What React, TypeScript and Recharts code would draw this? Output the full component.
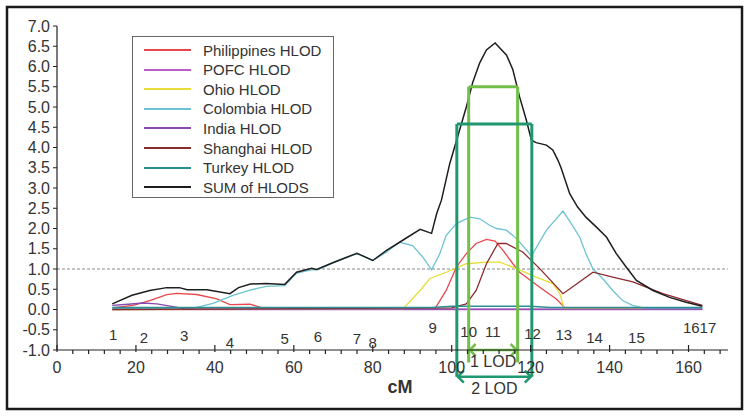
import React from "react";
import { ComposedChart, Line, Scatter, XAxis, YAxis, ReferenceLine, Customized } from "recharts";

// HLOD curves (cM vs LOD)
const sumCM = [14, 19, 23.5, 27.8, 31, 33, 38, 43.8, 46, 49, 53, 57.7, 60.7, 64.5, 65.8, 70, 76, 80, 83.5, 87.6, 92, 94.9, 96.2, 97.4, 99.5, 102, 103.7, 105.3, 107.1, 108.8, 111, 113.9, 115.5, 117.2, 118.9, 120.2, 121.4, 124, 125.6, 126.9, 127.7, 129.9, 131.9, 134, 136.6, 139.2, 141.7, 144.2, 146.8, 151, 155.2, 159.4, 163.5];
const sumLOD = [0.14, 0.35, 0.47, 0.54, 0.54, 0.49, 0.49, 0.39, 0.54, 0.63, 0.64, 0.62, 0.92, 1.02, 0.99, 1.16, 1.39, 1.21, 1.46, 1.71, 1.98, 1.88, 2.37, 2.7, 3.6, 4.43, 5.0, 5.6, 6.09, 6.41, 6.58, 6.28, 5.92, 5.25, 4.68, 4.18, 4.12, 4.06, 3.94, 3.69, 3.5, 2.86, 2.53, 2.28, 2.04, 1.79, 1.38, 1.05, 0.72, 0.47, 0.3, 0.18, 0.08];

const colCM = [14, 32, 34.4, 39.5, 44.6, 48.9, 53, 57.7, 60.7, 64.5, 66, 70, 76, 80, 83.5, 86.8, 90.1, 92.7, 94.9, 97, 98.6, 101.2, 104.6, 107.1, 109.6, 111.3, 113.8, 115.5, 117.2, 120.2, 124, 128.2, 130.3, 132.4, 134, 135.8, 138.3, 140.8, 143.3, 145.8, 149.3, 163.5];
const colLOD = [0.02, 0.02, 0.03, 0.15, 0.35, 0.48, 0.57, 0.59, 0.9, 0.98, 0.98, 1.15, 1.38, 1.21, 1.42, 1.66, 1.58, 1.29, 0.98, 1.38, 1.83, 2.12, 2.28, 2.24, 2.08, 2.0, 1.96, 1.83, 1.67, 1.32, 1.96, 2.43, 2.12, 1.79, 1.38, 1.0, 0.76, 0.47, 0.22, 0.1, 0.02, 0.02];

const phiCM = [14, 19.3, 23.5, 27.8, 30.3, 35.4, 40.5, 43.8, 48.9, 53, 95.7, 98.6, 101.2, 103.7, 106.2, 108.8, 111, 113, 115.5, 117.2, 122.3, 126.5, 129, 163.5];
const phiLOD = [0.04, 0.1, 0.22, 0.37, 0.4, 0.37, 0.26, 0.12, 0.13, 0.01, 0.01, 0.47, 1.05, 1.38, 1.63, 1.73, 1.69, 1.46, 1.13, 0.92, 0.55, 0.26, 0.01, 0.01];

const ohiCM = [14, 87.6, 92, 94.4, 98.6, 103.7, 108.8, 112.2, 116.4, 121.4, 125.6, 127.4, 128.5, 163.5];
const ohiLOD = [0, 0.01, 0.47, 0.76, 0.92, 1.13, 1.17, 1.17, 1.01, 0.8, 0.64, 0.39, 0.02, 0.02];

const shaCM = [14, 100, 103.7, 106.2, 108.8, 111.7, 113.8, 118, 122.3, 128.2, 135.8, 140.8, 145.9, 153.5, 163.5];
const shaLOD = [0, 0.04, 0.14, 0.47, 1.13, 1.63, 1.63, 1.42, 1.01, 0.39, 0.92, 0.8, 0.68, 0.39, 0.1];

const indCM = [14, 18, 21.8, 25.3, 29.4, 32.8, 163.5];
const indLOD = [0.1, 0.13, 0.16, 0.14, 0.07, 0.01, 0.01];

const pofCM = [14, 163.5];
const pofLOD = [0, 0];

const turCM = [14, 95, 100, 120, 125, 163.5];
const turLOD = [0.05, 0.05, 0.08, 0.08, 0.05, 0.05];

// marker labels along the map
const markerNames = ["1", "2", "3", "4", "5", "6", "7", "8", "9", "10", "11", "12", "13", "14", "15", "1617"];
const markerCM = [14.2, 22, 32.2, 43.8, 57.7, 66.1, 76, 80, 95.2, 104.3, 110.4, 120.5, 128.4, 136.2, 146.8, 162.8];
const markerLOD = [-0.62, -0.69, -0.64, -0.82, -0.72, -0.67, -0.72, -0.82, -0.45, -0.54, -0.54, -0.59, -0.62, -0.69, -0.69, -0.45];

// support intervals
const lodNames = ["1 LOD", "2 LOD"];
const lodLow = [104.3, 101.3];
const lodHigh = [116.7, 120.3];
const lodLevel = [5.5, 4.58];

const yTicks = [-1, -0.5, 0, 0.5, 1, 1.5, 2, 2.5, 3, 3.5, 4, 4.5, 5, 5.5, 6, 6.5, 7];
const xTicks = Array.from({ length: 43 }, (_, i) => i * 4);

const pts = (xs: number[], ys: number[]) => xs.map((x, i) => ({ cM: x, lod: ys[i] }));

const SERIES = [
  { name: "Philippines HLOD", color: "#e8474c", data: pts(phiCM, phiLOD) },
  { name: "POFC HLOD", color: "#b560c2", data: pts(pofCM, pofLOD) },
  { name: "Ohio HLOD", color: "#e6de36", data: pts(ohiCM, ohiLOD) },
  { name: "Colombia HLOD", color: "#6cc3d2", data: pts(colCM, colLOD) },
  { name: "India HLOD", color: "#8a48b0", data: pts(indCM, indLOD) },
  { name: "Shanghai HLOD", color: "#8c2b2e", data: pts(shaCM, shaLOD) },
  { name: "Turkey HLOD", color: "#2a8f93", data: pts(turCM, turLOD) },
  { name: "SUM of HLODS", color: "#1e1e1e", data: pts(sumCM, sumLOD) },
];

const markers = markerNames.map((n, i) => ({ cM: markerCM[i], lod: markerLOD[i], name: n }));
const LOD_COLORS = ["#72c04a", "#1f9870"];

const XTick = (props: any) => {
  const { x, y, payload } = props;
  const major = payload.value % 20 === 0;
  return (
    <g>
      {major ? (
        <line x1={x} y1={y - 5} x2={x} y2={y + 2} stroke="#222" strokeWidth={1.2} />
      ) : (
        <line x1={x} y1={y} x2={x} y2={y + 4} stroke="#222" strokeWidth={1.2} />
      )}
      {major && (
        <text x={x} y={y + 23} textAnchor="middle" fontSize={16} fill="#333">
          {payload.value}
        </text>
      )}
    </g>
  );
};

const MarkerLabel = (props: any) => (
  <text x={props.cx} y={props.cy} textAnchor="middle" dominantBaseline="central" fontSize={15} fill="#333">
    {props.payload.name}
  </text>
);

const arrowShape = (text: string, color: string) => (p: any) => {
  const { x1, y1, x2 } = p;
  const h = 6;
  return (
    <g>
      <line x1={x1 + 1} y1={y1} x2={x2 - 1} y2={y1} stroke={color} strokeWidth={2.5} />
      <polyline points={`${x1 + h + 1},${y1 - h} ${x1 + 1},${y1} ${x1 + h + 1},${y1 + h}`} fill="none" stroke={color} strokeWidth={2.5} />
      <polyline points={`${x2 - h - 1},${y1 - h} ${x2 - 1},${y1} ${x2 - h - 1},${y1 + h}`} fill="none" stroke={color} strokeWidth={2.5} />
      <text x={(x1 + x2) / 2} y={y1 + 17} textAnchor="middle" fontSize={16} fill="#333">
        {text}
      </text>
    </g>
  );
};

// outer border of the figure
const Frame = () => <rect x={7} y={7} width={735} height={402} fill="none" stroke="#1a1a1a" strokeWidth={2.5} />;

export default function App() {
  const lodBottom = [-1.31, -1.66];
  const arrowY = [-1.0, -1.66];
  return (
    <div style={{ position: "absolute", left: 0, top: 0, width: 750, height: 416, background: "#fff", fontFamily: '"Liberation Sans", Arial, sans-serif' }}>
      <ComposedChart width={750} height={416} margin={{ top: 26, right: 22, bottom: 65, left: 7 }}>
        <Customized component={Frame} />
        <XAxis
          type="number"
          dataKey="cM"
          domain={[0, 170]}
          ticks={xTicks}
          interval={0}
          height={1}
          tickSize={0}
          tickMargin={0}
          tick={<XTick />}
          axisLine={{ stroke: "#222", strokeWidth: 1.2 }}
          allowDataOverflow
        />
        <YAxis
          type="number"
          dataKey="lod"
          domain={[-1, 7]}
          ticks={yTicks}
          interval={0}
          width={50}
          tickSize={4}
          tickMargin={3}
          tickFormatter={(v: number) => v.toFixed(1)}
          tick={{ fontSize: 16, fill: "#333" }}
          axisLine={{ stroke: "#222", strokeWidth: 1.2 }}
          tickLine={{ stroke: "#222" }}
          allowDataOverflow
        />
        <ReferenceLine y={1} stroke="#888" strokeDasharray="3 2" strokeWidth={1} />
        {SERIES.map((s) => (
          <Line
            key={s.name}
            data={s.data}
            dataKey="lod"
            type="linear"
            stroke={s.color}
            strokeWidth={s.name.startsWith("SUM") ? 1.5 : 1.3}
            dot={false}
            isAnimationActive={false}
          />
        ))}
        <Scatter data={markers} dataKey="lod" shape={<MarkerLabel />} isAnimationActive={false} />
        {lodNames.map((n, i) => (
          <React.Fragment key={n}>
            <ReferenceLine ifOverflow="visible" stroke={LOD_COLORS[i]} strokeWidth={3} segment={[{ x: lodLow[i], y: lodLevel[i] }, { x: lodLow[i], y: lodBottom[i] }]} />
            <ReferenceLine ifOverflow="visible" stroke={LOD_COLORS[i]} strokeWidth={3} segment={[{ x: lodHigh[i], y: lodLevel[i] }, { x: lodHigh[i], y: lodBottom[i] }]} />
            <ReferenceLine ifOverflow="visible" stroke={LOD_COLORS[i]} strokeWidth={3} segment={[{ x: lodLow[i], y: lodLevel[i] }, { x: lodHigh[i], y: lodLevel[i] }]} />
            <ReferenceLine
              ifOverflow="visible"
              stroke={LOD_COLORS[i]}
              segment={[{ x: lodLow[i], y: arrowY[i] }, { x: lodHigh[i], y: arrowY[i] }]}
              shape={arrowShape(n, LOD_COLORS[i])}
            />
          </React.Fragment>
        ))}
      </ComposedChart>

      <div style={{ position: "absolute", left: 132, top: 36, width: 200, height: 160, border: "1px solid #666", background: "#fff" }}>
        {SERIES.map((s, i) => (
          <div key={s.name} style={{ position: "absolute", left: 0, top: 13 + i * 19.6 - 9, height: 18, display: "flex", alignItems: "center" }}>
            <div style={{ marginLeft: 11, width: 47, height: 2, background: s.color }} />
            <div style={{ marginLeft: 12, fontSize: 15, color: "#333", whiteSpace: "nowrap" }}>{s.name}</div>
          </div>
        ))}
      </div>

      <div style={{ position: "absolute", left: 360, top: 377, width: 80, textAlign: "center", fontSize: 18, fontWeight: "bold", color: "#333" }}>cM</div>
    </div>
  );
}
